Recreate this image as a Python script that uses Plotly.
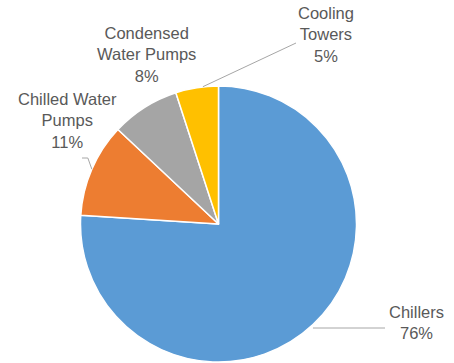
import math
import plotly.graph_objects as go

# Share of chiller-plant energy use by component
categories = ["Chillers", "Chilled Water Pumps", "Condensed Water Pumps", "Cooling Towers"]
label_text = ["Chillers", "Chilled Water<br>Pumps", "Condensed<br>Water Pumps", "Cooling<br>Towers"]
shares = [76, 11, 8, 5]
colors = ["#5B9BD5", "#ED7D31", "#A5A5A5", "#FFC000"]

W, H = 454, 363
CX, CY, R = 218.5, 224.0, 138.0  # pie centre and radius in pixels


def px(x, y):
    """Pixel position -> paper coordinates."""
    return x / W, 1 - y / H


fig = go.Figure(go.Pie(
    labels=categories,
    values=shares,
    sort=False,
    direction="clockwise",
    rotation=0,
    marker=dict(colors=colors, line=dict(color="white", width=1.5)),
    textinfo="none",
    hoverinfo="label+percent",
    showlegend=False,
    domain=dict(x=[(CX - R) / W, (CX + R) / W], y=[1 - (CY + R) / H, 1 - (CY - R) / H]),
))

total = sum(shares)
pcts = [round(100 * v / total) for v in shares]


def edge_point(i, rr=R):
    start = sum(shares[:i]) / total
    mid = (start + shares[i] / total / 2) * 2 * math.pi
    return CX + rr * math.sin(mid), CY - rr * math.cos(mid)


# label centres (pixels)
label_pos = [(416, 322), (67, 120), (146, 55), (326, 35)]

annotations = []
for i, (lx, ly) in enumerate(label_pos):
    x, y = px(lx, ly)
    annotations.append(dict(
        x=x, y=y, xref="paper", yref="paper", xanchor="center", yanchor="middle",
        text=f"{label_text[i]}<br>{pcts[i]}%", showarrow=False, align="center",
        font=dict(family="Liberation Sans, Arial, sans-serif", size=16.5, color="#595959"),
    ))

line_style = dict(color="#A6A6A6", width=1)
shapes = []
# Chillers: horizontal leader
x0, y0 = edge_point(0)
for (a, b), (c, d) in [((x0, 328), (385, 328))]:
    p0, p1 = px(a, b), px(c, d)
    shapes.append(dict(type="line", xref="paper", yref="paper", x0=p0[0], y0=p0[1], x1=p1[0], y1=p1[1], line=line_style))
# Chilled Water Pumps: short bent leader
x1, y1 = edge_point(1)
pts = [(x1, y1), (x1 - 4, 158), (82, 158)]
for (a, b), (c, d) in zip(pts[:-1], pts[1:]):
    p0, p1 = px(a, b), px(c, d)
    shapes.append(dict(type="line", xref="paper", yref="paper", x0=p0[0], y0=p0[1], x1=p1[0], y1=p1[1], line=line_style))
# Cooling Towers: diagonal leader
x3, y3 = edge_point(3)
p0, p1 = px(x3 + 6, y3 - 1), px(296, 43)
shapes.append(dict(type="line", xref="paper", yref="paper", x0=p0[0], y0=p0[1], x1=p1[0], y1=p1[1], line=line_style))

fig.update_layout(
    width=W, height=H,
    margin=dict(l=0, r=0, t=0, b=0),
    paper_bgcolor="white", plot_bgcolor="white",
    annotations=annotations, shapes=shapes,
)

fig.write_html("out.html")
